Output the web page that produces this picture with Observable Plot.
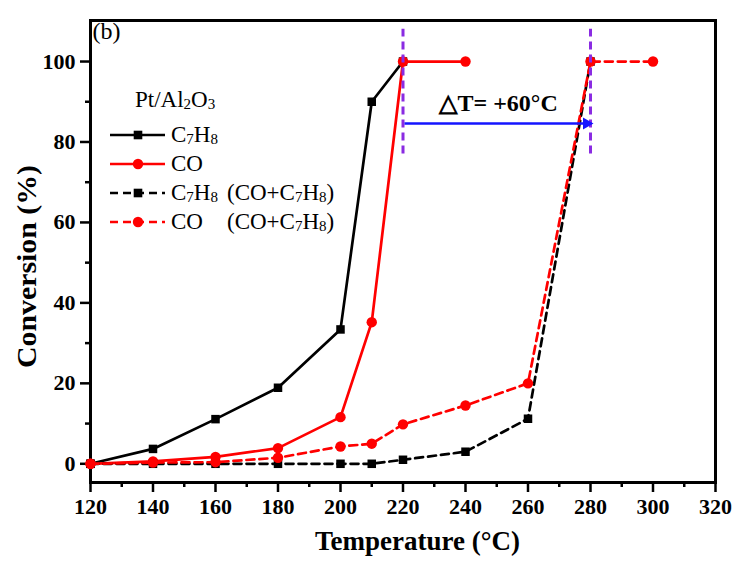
<!DOCTYPE html>
<html><head><meta charset="utf-8">
<script src="https://cdn.jsdelivr.net/npm/d3@7"></script>
<script src="https://cdn.jsdelivr.net/npm/@observablehq/plot@0.6"></script>
<style>
body{margin:0;background:#fff}
#chart{position:relative;width:741px;height:562px}
#chart svg{overflow:visible}
</style>
</head><body><div id="chart"></div>
<script>
// ---- data ----
const seriesNames = ["C7H8", "CO", "C7H8 (CO+C7H8)", "CO (CO+C7H8)"];
const tempC7H8 = [120, 140, 160, 180, 200, 210, 220];
const convC7H8 = [0, 3.7, 11.1, 18.9, 33.4, 90, 100];
const tempCO = [120, 140, 160, 180, 200, 210, 220, 240];
const convCO = [0, 0.6, 1.7, 3.9, 11.6, 35.2, 100, 100];
const tempMixC7H8 = [120, 140, 160, 180, 200, 210, 220, 240, 260, 280];
const convMixC7H8 = [0, 0, 0, 0, 0, 0, 1.0, 3.0, 11.2, 100];
const tempMixCO = [120, 140, 160, 180, 200, 210, 220, 240, 260, 280, 300];
const convMixCO = [0, 0.3, 0.4, 1.5, 4.3, 5.0, 9.8, 14.5, 20.0, 100, 100];
const xTicks = [120, 140, 160, 180, 200, 220, 240, 260, 280, 300, 320];
const xMinorTicks = [130, 150, 170, 190, 210, 230, 250, 270, 290, 310];
const yTicks = [0, 20, 40, 60, 80, 100];
const yMinorTicks = [10, 30, 50, 70, 90];
const deltaTemps = [220, 280];      // light-off temperatures marked by dashed lines
const deltaLabel = ["\u25B3T= +60\u00B0C"];
const xTitle = "Temperature (\u00B0C)";
const yTitle = "Conversion (%)";

// ---- styles ----
const styles = {
  "C7H8": {color: "#000000", dash: null, symbol: "square"},
  "CO": {color: "#ff0000", dash: null, symbol: "circle"},
  "C7H8 (CO+C7H8)": {color: "#000000", dash: "8,5", symbol: "square"},
  "CO (CO+C7H8)": {color: "#ff0000", dash: "8,5", symbol: "circle"}
};
const font = "'Liberation Serif', 'Times New Roman', serif";

const temps = [tempC7H8, tempCO, tempMixC7H8, tempMixCO];
const convs = [convC7H8, convCO, convMixC7H8, convMixCO];
const data = seriesNames.map((name, i) => temps[i].map((t, j) => ({series: name, t, v: convs[i][j]})));

const seriesMarks = data.flatMap((rows, i) => {
  const s = styles[seriesNames[i]];
  return [
    Plot.line(rows, {x: "t", y: "v", stroke: s.color, strokeWidth: 2.7, strokeDasharray: s.dash}),
    Plot.dot(rows, {x: "t", y: "v", fill: s.color, stroke: "none", symbol: s.symbol, r: s.symbol === "square" ? 4.8 : 5.2})
  ];
});

const arrowY = 84.6;
const chart = Plot.plot({
  width: 741, height: 562,
  marginLeft: 90, marginRight: 26, marginTop: 20, marginBottom: 80,
  style: {fontFamily: font, background: "white", color: "black", overflow: "visible"},
  x: {domain: [120, 320]},
  y: {domain: [-4.65, 110.2]},
  marks: [
    Plot.axisX({ticks: xTicks, tickSize: 10, tickPadding: 6, fontSize: 22, fontWeight: "bold", strokeWidth: 2.5, label: null, tickFormat: d => String(d)}),
    Plot.axisX({ticks: xMinorTicks, tickSize: 5, text: null, strokeWidth: 2.5, label: null}),
    Plot.axisY({ticks: yTicks, tickSize: 10, tickPadding: 5, fontSize: 22, fontWeight: "bold", strokeWidth: 2.5, label: null, tickFormat: d => String(d)}),
    Plot.axisY({ticks: yMinorTicks, tickSize: 5, text: null, strokeWidth: 2.5, label: null}),
    Plot.frame({stroke: "black", strokeWidth: 3}),
    Plot.text(["(b)"], {frameAnchor: "top-left", dx: 2, dy: 1, fontSize: 24, lineAnchor: "top", textAnchor: "start"}),
    ...seriesMarks,
    Plot.ruleX(deltaTemps, {y1: 77, y2: 108, stroke: "#8a2be2", strokeWidth: 3, strokeDasharray: "8,5"}),
    Plot.ruleY([arrowY], {x1: deltaTemps[0], x2: deltaTemps[1], stroke: "#1414ff", strokeWidth: 2.5, dx: 2, insetRight: 8}),
    Plot.dot([arrowY], {x: () => deltaTemps[1], y: d => d, symbol: "triangle", rotate: 90, r: 4.5, fill: "#1414ff", stroke: "none", dx: -4}),
    Plot.text(deltaLabel, {x: () => (deltaTemps[0] + deltaTemps[1]) / 2 + 0.6, y: () => 89.6, fontSize: 24, fontWeight: "bold"})
  ]
});
document.getElementById("chart").appendChild(chart);

// ---- axis titles & legend (drawn into the same svg) ----
const svg = d3.select(chart);
svg.append("text").text(xTitle).attr("x", 315).attr("y", 550)
  .attr("text-anchor", "start").attr("textLength", 205).attr("lengthAdjust", "spacingAndGlyphs")
  .attr("font-family", font).attr("font-size", 28).attr("font-weight", "bold").attr("fill", "black");
svg.append("text").text(yTitle).attr("transform", "translate(36,368) rotate(-90)")
  .attr("text-anchor", "start").attr("textLength", 203).attr("lengthAdjust", "spacingAndGlyphs")
  .attr("font-family", font).attr("font-size", 28).attr("font-weight", "bold").attr("fill", "black");

const lg = svg.append("g").attr("font-family", font).attr("fill", "black").attr("text-anchor", "start");
function richText(x, y, size, parts) {
  const t = lg.append("text").attr("x", x).attr("y", y).attr("font-size", size).attr("text-anchor", "start");
  let shifted = false;
  parts.forEach(([str, isSub]) => {
    const ts = t.append("tspan").text(str);
    if (isSub) { ts.attr("font-size", 15); if (!shifted) ts.attr("dy", 2); shifted = true; }
    else { if (shifted) ts.attr("dy", -2); shifted = false; }
  });
}
richText(135, 107, 23, [["Pt/Al", false], ["2", true], ["O", false], ["3", true]]);
const labelParts = {
  "C7H8": [["C", false], ["7", true], ["H", false], ["8", true]],
  "CO": [["CO", false]],
};
const rowsY = [135, 164, 193, 222];
seriesNames.forEach((name, i) => {
  const s = styles[name];
  const y = rowsY[i];
  lg.append("line").attr("x1", 110).attr("x2", 165).attr("y1", y).attr("y2", y)
    .attr("stroke", s.color).attr("stroke-width", 2.7).attr("stroke-dasharray", s.dash);
  if (s.symbol === "square") {
    lg.append("rect").attr("x", 138 - 4.3).attr("y", y - 4.3).attr("width", 8.6).attr("height", 8.6).attr("fill", s.color);
  } else {
    lg.append("circle").attr("cx", 138).attr("cy", y).attr("r", 5.2).attr("fill", s.color);
  }
  const base = name.split(" ")[0];
  richText(171, y + 7, 23, labelParts[base]);
  if (name.includes("(")) {
    richText(227, y + 7, 23, [["(CO+C", false], ["7", true], ["H", false], ["8", true], [")", false]]);
  }
});
</script>
</body></html>
